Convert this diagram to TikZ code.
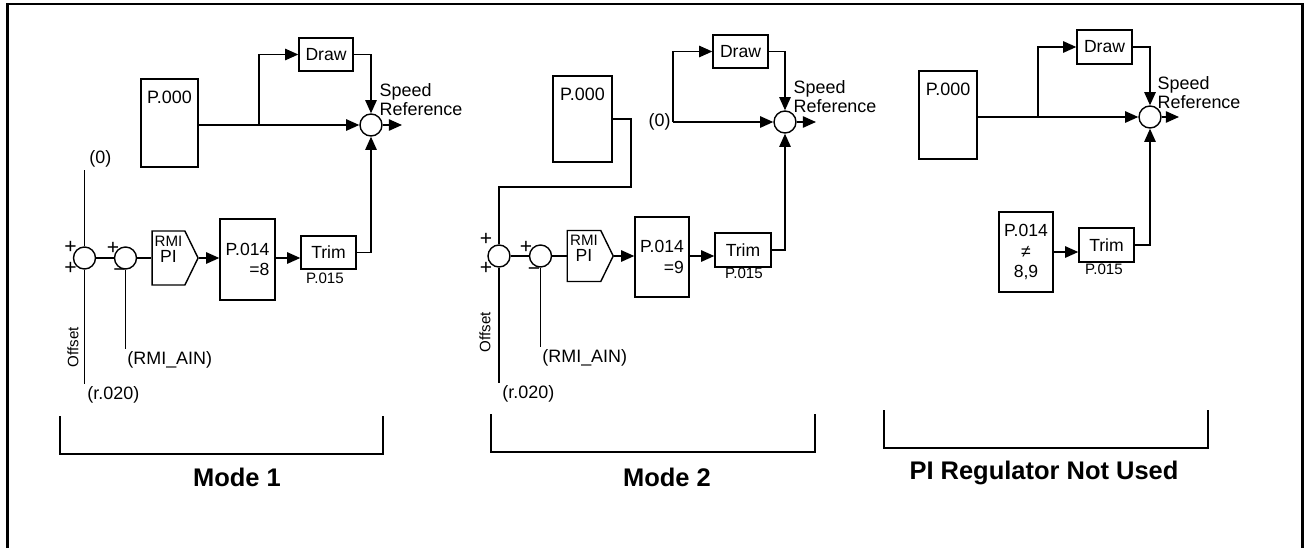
\documentclass[tikz,border=0pt]{standalone}
\usepackage{fontspec}
\setmainfont{Liberation Sans}
\usetikzlibrary{arrows.meta, shapes.symbols}

\begin{document}
\begin{tikzpicture}[x=0.02cm, y=-0.02cm, line width=0.8pt,
    >={Triangle[length=7.5pt, width=6.5pt]},
    box/.style={draw, inner sep=0pt, font=\fontsize{10}{11.5}\selectfont},
    pbox/.style={box, label={[lbl, anchor=north, yshift=-6pt]north:P.000}},
    sum/.style={draw, circle, minimum size=0.44cm, inner sep=0pt},
    pibox/.style={draw, signal, signal to=east, signal pointer angle=128,
                  inner sep=0pt, minimum width=0.92cm},
    pitext/.style={align=center, inner sep=0pt, font=\fontsize{10}{9}\selectfont},
    lbl/.style={font=\fontsize{10.2}{11}\selectfont, inner sep=1pt},
    tiny/.style={font=\fontsize{8.6}{9}\selectfont, inner sep=0pt},
    sign/.style={font=\fontsize{12}{12}\selectfont, inner sep=0pt},
    title/.style={font=\fontsize{14.5}{17}\selectfont\bfseries}]
  \useasboundingbox (0,0) rectangle (1304,548);
  \draw[line width=1.7pt] (7.5,548) |- (1302.5,4) -- (1302.5,548);

  % Mode 1
  \node[pbox, minimum width=1.14cm, minimum height=1.76cm] (p0a) at (169.5,123) {};
  \node[box, minimum width=1.08cm, minimum height=0.66cm] (drawa) at (326,54.5) {Draw};
  \node[sum] (suma) at (371,125) {};
  \node[lbl, align=left, anchor=south west, inner sep=0pt] (spda) at (379,116.5)
    {Speed\\Reference};
  \coordinate (outa) at (402,125);
  \coordinate (brancha) at (259,125);
  \node[sum] (sum1a) at (84.5,258) {};
  \node[sum] (sum2a) at (125.5,258) {};
  \node[pibox, minimum height=1.08cm] (pia) at (168.5,258) {};
  \node[pitext] (pita) at (168.5,249) {\fontsize{8.6}{8}\selectfont RMI\\PI};
  \node[box, align=right, minimum width=1.1cm, minimum height=1.62cm] (p14a) at (247.5,259.5)
    {P.014\\=8};
  \node[box, minimum width=1.1cm, minimum height=0.66cm] (trima) at (328.5,252.5) {Trim};
  \node[tiny] (p15a) at (325,278) {P.015};
  \node[lbl, anchor=south west] (zeroa) at (87,170) {(0)};
  \node[lbl, anchor=north west] (r20a) at (85,384) {(r.020)};
  \node[lbl, anchor=north west] (aina) at (125,349) {(RMI\_AIN)};
  \node[tiny, rotate=90] (offa) at (73,347) {Offset};
  \node[sign] (pl1a) at (70.5,247.5) {+};
  \node[sign] (pl2a) at (70.5,268) {+};
  \node[sign] (pl3a) at (113,248) {+};
  \node[sign] (mina) at (119.5,273) {−};
  \draw[->] (p0a.east |- suma) -- (suma);
  \draw[->] (brancha) |- (drawa);
  \draw[->] (drawa) -| (suma);
  \draw[->] (suma) -- (outa);
  \draw[->] (trima) -| (suma);
  \draw (sum1a) -- (sum2a);
  \draw (sum2a) -- (pia);
  \draw[->] (pia.east) -- (pia.east -| p14a.west);
  \draw[->] (pia.east -| p14a.east) -- (pia.east -| trima.west);
  \draw (sum1a) -- (sum1a |- zeroa.south);
  \draw (sum1a) -- (sum1a |- r20a.north);
  \draw (sum2a) -- (sum2a |- aina.north);
  \draw (60,416) |- (383,454) -- (383,416);
  \node[title] (mode1) at (237,477) {Mode 1};

  % Mode 2
  \node[pbox, minimum width=1.18cm, minimum height=1.72cm] (p0b) at (582.5,119) {};
  \node[box, minimum width=1.1cm, minimum height=0.66cm] (drawb) at (740.5,51.5) {Draw};
  \node[sum] (sumb) at (785,122) {};
  \node[lbl, align=left, anchor=south west, inner sep=0pt] (spdb) at (793,113.5)
    {Speed\\Reference};
  \coordinate (outb) at (816,122);
  \node[lbl, anchor=east] (zerob) at (673,122) {(0)};
  \node[sum] (sum1b) at (499,256) {};
  \node[sum] (sum2b) at (540.5,256) {};
  \node[pibox, minimum height=1.02cm] (pib) at (584,256) {};
  \node[pitext] (pitb) at (584,248) {\fontsize{8.6}{8}\selectfont RMI\\PI};
  \node[box, align=right, minimum width=1.08cm, minimum height=1.6cm] (p14b) at (662,257)
    {P.014\\=9};
  \node[box, minimum width=1.12cm, minimum height=0.68cm] (trimb) at (743,250) {Trim};
  \node[tiny] (p15b) at (744,273) {P.015};
  \node[lbl, anchor=north west] (r20b) at (500,383) {(r.020)};
  \node[lbl, anchor=north west] (ainb) at (540,347) {(RMI\_AIN)};
  \node[tiny, rotate=90] (offb) at (485,332) {Offset};
  \node[sign] (pl1b) at (486,239) {+};
  \node[sign] (pl2b) at (486,268) {+};
  \node[sign] (pl3b) at (526,247) {+};
  \node[sign] (minb) at (534,272) {−};
  \draw (p0b.east) -| (631,187) -| (sum1b);
  \draw[->] (zerob) -- (sumb);
  \draw[->] (zerob.east) |- (drawb);
  \draw[->] (drawb) -| (sumb);
  \draw[->] (sumb) -- (outb);
  \draw[->] (trimb) -| (sumb);
  \draw (sum1b) -- (sum2b);
  \draw (sum2b) -- (pib);
  \draw[->] (pib.east) -- (pib.east -| p14b.west);
  \draw[->] (pib.east -| p14b.east) -- (pib.east -| trimb.west);
  \draw (sum1b) -- (sum1b |- r20b.north);
  \draw (sum2b) -- (sum2b |- ainb.north);
  \draw (491,414) |- (815,452) -- (815,414);
  \node[title] (mode2) at (667,477) {Mode 2};

  % PI regulator not used
  \node[pbox, minimum width=1.16cm, minimum height=1.76cm] (p0c) at (948,115) {};
  \node[box, minimum width=1.1cm, minimum height=0.68cm] (drawc) at (1104.5,47) {Draw};
  \node[sum] (sumc) at (1150,117) {};
  \node[lbl, align=left, anchor=south west, inner sep=0pt] (spdc) at (1157,109.5)
    {Speed\\Reference};
  \coordinate (outc) at (1179,117);
  \coordinate (branchc) at (1038,117);
  \node[box, align=center, minimum width=1.08cm, minimum height=1.6cm] (p14c) at (1026,252)
    {P.014\\≠\\8,9};
  \node[box, minimum width=1.1cm, minimum height=0.68cm] (trimc) at (1106.5,245) {Trim};
  \node[tiny] (p15c) at (1104,269) {P.015};
  \draw[->] (p0c.east |- sumc) -- (sumc);
  \draw[->] (branchc) |- (drawc);
  \draw[->] (drawc) -| (sumc);
  \draw[->] (sumc) -- (outc);
  \draw[->] (trimc) -| (sumc);
  \draw[->] (p14c) -- (p14c -| trimc.west);
  \draw (884,410) |- (1208,448) -- (1208,410);
  \node[title] (mode3) at (1044,473) {PI Regulator Not Used};
\end{tikzpicture}
\end{document}
